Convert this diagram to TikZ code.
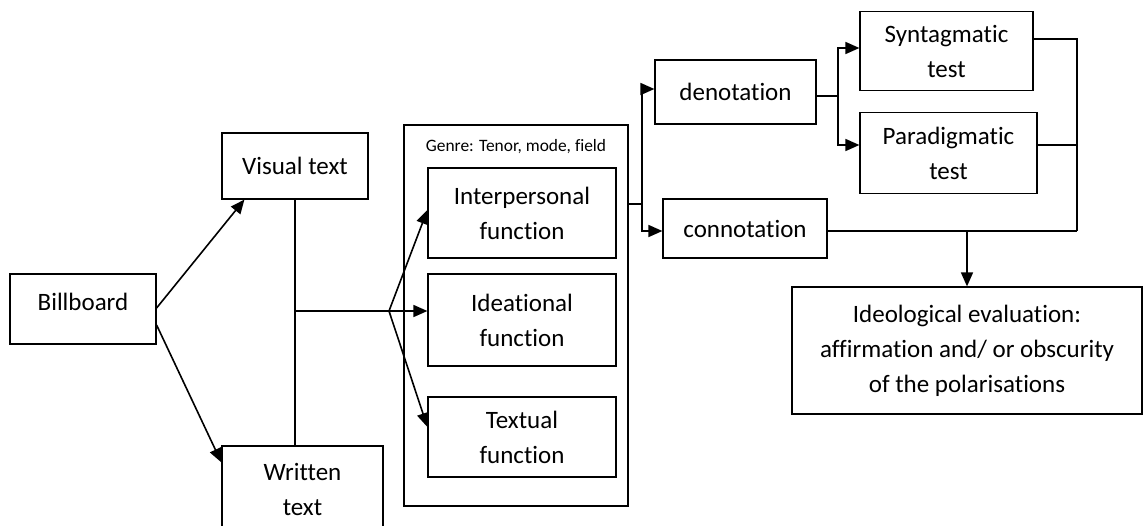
\documentclass[tikz,border=0pt]{standalone}
\usepackage{fontspec}
\setmainfont{Carlito}[Ligatures={NoCommon,NoRequired,NoContextual}]
\usetikzlibrary{%
	arrows.meta,%
	calc
}

\tikzset{
	box/.style={draw, line width=1.2pt, align=center, inner sep=0pt,
		font=\fontsize{25pt}{35pt}\selectfont},
	arr/.style={line width=1.6pt, -{Triangle[length=14pt,width=12pt]}},
	ln/.style={line width=1.4pt}
}

\begin{document}
\begin{tikzpicture}[x=1pt,y=-1pt]
		\useasboundingbox (0,0) rectangle (1148,525);
		
		% Boxes on the left
		\node[box, minimum width=146pt, minimum height=70pt] (billboard) at (83,309) {\raisebox{7pt}[\height][\depth]{Billboard}};
		\node[box, minimum width=146pt, minimum height=66pt] (visual) at (295,166) {Visual text};
		\node[box, minimum width=161pt, minimum height=86pt] (written) at (302.5,489) {Written\\text};
		
		% Genre frame and its three functions
		\node[draw, line width=1.2pt, minimum width=224pt, minimum height=381pt] (genre) at (516,315.5) {};
		\node[font=\fontsize{17.4pt}{20pt}\selectfont] (genrelabel) at (516,147) {Genre: Tenor, mode, field};
		\node[box, minimum width=188pt, minimum height=90pt] (interp) at (522,213) {Interpersonal\\function};
		\node[box, minimum width=188pt, minimum height=92pt] (idea) at (522,320) {Ideational\\function};
		\node[box, minimum width=188pt, minimum height=80pt] (textual) at (522,437) {Textual\\function};
		
		% Boxes on the right
		\node[box, minimum width=161pt, minimum height=64pt] (denot) at (735.5,92) {denotation};
		\node[box, minimum width=164pt, minimum height=59pt] (connot) at (745,228.5) {connotation};
		\node[box, minimum width=173pt, minimum height=79pt] (synt) at (946.5,51) {Syntagmatic\\test};
		\node[box, minimum width=177pt, minimum height=81pt] (para) at (948.5,153) {Paradigmatic\\test};
		\node[box, minimum width=350pt, minimum height=127pt] (ideo) at (967,350.5) {Ideological evaluation:\\affirmation and/ or obscurity\\of the polarisations};
		
		% Junctions
		\coordinate (split) at (visual.south |- 0,311);
		\coordinate (fan) at (389,311);
		\coordinate (branch) at (642,204);
		\coordinate (fork) at (838,96);
		\coordinate (merge) at (1077,231);
		\coordinate (sout) at ([yshift=12pt]synt.east);
		\coordinate (pout) at ([yshift=8pt]para.east);
		
		% Billboard to the two texts
		\draw[arr] ([yshift=1pt]billboard.east) -- ([xshift=23pt]visual.south west);
		\draw[arr] ([yshift=-16pt]billboard.east) -- ([yshift=-17pt]written.north west);
		\draw[ln] (visual.south) -- (visual.south |- written.north);
		\draw[ln] (split) -- (fan);
		\foreach \fn/\dy in {interp/3,idea/9,textual/10}
		\draw[arr] (fan) -- ([yshift=\dy pt]\fn.west);
		
		% Genre to denotation and connotation
		\draw[ln] (genre.east |- branch) -- (branch);
		\draw[arr] (branch) |- ([yshift=3pt]denot.west);
		\draw[arr] (branch) |- ([yshift=-2.5pt]connot.west);
		
		% Denotation to the two tests
		\draw[ln] (denot.east |- fork) -- (fork);
		\draw[arr] (fork) |- ([yshift=3pt]synt.west);
		\draw[arr] (fork) |- ([yshift=8pt]para.west);
		
		% Everything into the evaluation
		\draw[ln] (sout) -| (merge);
		\draw[ln] (pout) -- (pout -| merge);
		\draw[ln] (connot.east |- merge) -- (merge);
		\draw[arr] (ideo.north |- merge) -- (ideo.north);
	\end{tikzpicture}
\end{document}
